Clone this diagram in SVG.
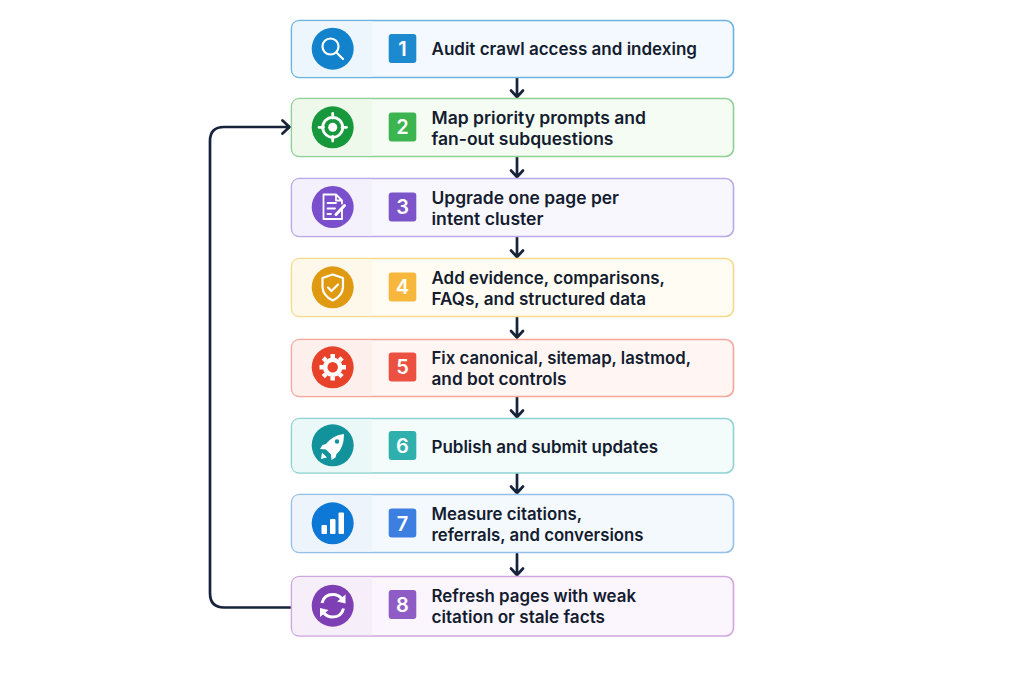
<svg xmlns="http://www.w3.org/2000/svg" width="1024" height="683" viewBox="0 0 1024 683">
<style>
.box{stroke-width:1.6}
.t{font-family:Inter,"Liberation Sans",sans-serif;font-size:17px;font-weight:600;fill:#141c30}
.n{font-family:Inter,"Liberation Sans",sans-serif;font-size:20px;font-weight:600;fill:#fff;text-anchor:middle}
.i{fill:none;stroke:#fff;stroke-width:2.2;stroke-linecap:round;stroke-linejoin:round}
.f{fill:#fff}
.c{fill:none;stroke:#17233b;stroke-width:2.7;stroke-linecap:round;stroke-linejoin:round}
</style>
<rect width="1024" height="683" fill="#fff"/>
<g id="connectors">
<path class="c" d="M517 78V97M511 90.500L517 97L523 90.500"/>
<path class="c" d="M517 157V177M511 170.500L517 177L523 170.500"/>
<path class="c" d="M517 237V257M511 250.500L517 257L523 250.500"/>
<path class="c" d="M517 317V337.500M511 331L517 337.500L523 331"/>
<path class="c" d="M517 397V417M511 410.500L517 417L523 410.500"/>
<path class="c" d="M517 474V493M511 486.500L517 493L523 486.500"/>
<path class="c" d="M517 554V575M511 568.500L517 575L523 568.500"/>
<path class="c" d="M290 607.500H224Q210 607.500 210 593V141Q210 127 224 127H289M282.500 120.500L289.500 127L282.500 133.500"/>
</g>
<g id="step1">
<rect class="box" x="291.500" y="20.500" width="442" height="57" rx="8" fill="#f3f9fe" stroke="#6cb4e0"/>
<path d="M299 21.300H372V76.700H299Q292.300 76.700 292.300 70V28Q292.300 21.300 299 21.300Z" fill="#edf6fc"/>
<circle cx="332.700" cy="48.700" r="21" fill="#1382cc"/>
<circle class="i" cx="330.500" cy="46.500" r="8"/><path class="i" d="M336.500 52.500L343 59"/>
<rect x="388.700" y="34" width="27.600" height="29" rx="3" fill="#1d8ad0"/>
<text class="n" x="402.500" y="55.500">1</text>
<text class="t" x="431.500" y="55" textLength="265.500" lengthAdjust="spacingAndGlyphs">Audit crawl access and indexing</text>
</g>
<g id="step2">
<rect class="box" x="291.500" y="98.500" width="442" height="58" rx="8" fill="#f5fcf3" stroke="#8fd096"/>
<path d="M299 99.300H372V155.700H299Q292.300 155.700 292.300 149V106Q292.300 99.300 299 99.300Z" fill="#eef9ec"/>
<circle cx="332.700" cy="127.300" r="21" fill="#17983c"/>
<circle class="i" style="stroke-width:2.800" cx="332.700" cy="127.300" r="10"/><circle class="f" cx="332.700" cy="127.300" r="4.500"/>
<path class="i" style="stroke-width:2.800" d="M332.700 113.500V118M332.700 136.500V141M319 127.300H323.500M342 127.300H346.500"/>
<rect x="388.700" y="112.500" width="27.600" height="29" rx="3" fill="#3cb44f"/>
<text class="n" x="402.500" y="134">2</text>
<text class="t" x="431.500" y="124" textLength="214.500" lengthAdjust="spacingAndGlyphs">Map priority prompts and</text>
<text class="t" x="431.500" y="145" textLength="182" lengthAdjust="spacingAndGlyphs">fan-out subquestions</text>
</g>
<g id="step3">
<rect class="box" x="291.500" y="178.500" width="442" height="58" rx="8" fill="#f9f7fe" stroke="#bba8e6"/>
<path d="M299 179.300H372V235.700H299Q292.300 235.700 292.300 229V186Q292.300 179.300 299 179.300Z" fill="#f4f0fc"/>
<circle cx="332.700" cy="207" r="21" fill="#7a4fcb"/>
<path class="i" style="stroke-width:1.800" d="M342 209V219H323.500V194.500H336L342 200.500V203.500M336 194.500V200.500H342M327.500 203H336M327.500 208.500H335M327.500 214H331"/>
<path class="i" style="stroke-width:3" d="M336 214.500L344.500 205.500"/>
<rect x="388.700" y="192.500" width="27.600" height="29" rx="3" fill="#7b55c9"/>
<text class="n" x="402.500" y="214">3</text>
<text class="t" x="431.500" y="204" textLength="187.500" lengthAdjust="spacingAndGlyphs">Upgrade one page per</text>
<text class="t" x="431.500" y="225" textLength="112" lengthAdjust="spacingAndGlyphs">intent cluster</text>
</g>
<g id="step4">
<rect class="box" x="291.500" y="258.500" width="442" height="58" rx="8" fill="#fffcf3" stroke="#f5d98d"/>
<path d="M299 259.300H372V315.700H299Q292.300 315.700 292.300 309V266Q292.300 259.300 299 259.300Z" fill="#fef8ea"/>
<circle cx="332.700" cy="287.300" r="21" fill="#e09a12"/>
<path class="i" d="M332.700 274.500L322.500 278V287Q323 296 332.700 300.500Q342.500 296 343 287V278Z"/>
<path class="i" d="M328 287.500L331.500 291L338 284.500"/>
<rect x="388.700" y="272.500" width="27.600" height="29" rx="3" fill="#f6b73c"/>
<text class="n" x="402.500" y="294">4</text>
<text class="t" x="431.500" y="284" textLength="233.500" lengthAdjust="spacingAndGlyphs">Add evidence, comparisons,</text>
<text class="t" x="431.500" y="305" textLength="214.500" lengthAdjust="spacingAndGlyphs">FAQs, and structured data</text>
</g>
<g id="step5">
<rect class="box" x="291.500" y="339.500" width="442" height="57" rx="8" fill="#fff6f4" stroke="#f3a79d"/>
<path d="M299 340.300H372V395.700H299Q292.300 395.700 292.300 389V347Q292.300 340.300 299 340.300Z" fill="#fdefec"/>
<circle cx="332.700" cy="367.300" r="21" fill="#e8432a"/>
<circle class="i" style="stroke-width:4.500" cx="332.700" cy="367.300" r="7.500"/>
<path class="i" style="stroke-width:4.500;stroke-linecap:butt" d="M332.700 354V358M332.700 376.500V380.500M319.500 367.300H323.500M342 367.300H346M323.300 357.900L326 360.600M339.400 374L342.100 376.700M323.300 376.700L326 374M339.400 360.600L342.100 357.900"/>
<rect x="388.700" y="352.500" width="27.600" height="29" rx="3" fill="#ec5040"/>
<text class="n" x="402.500" y="374">5</text>
<text class="t" x="431.500" y="364" textLength="259.500" lengthAdjust="spacingAndGlyphs">Fix canonical, sitemap, lastmod,</text>
<text class="t" x="431.500" y="385" textLength="135" lengthAdjust="spacingAndGlyphs">and bot controls</text>
</g>
<g id="step6">
<rect class="box" x="291.500" y="418.500" width="442" height="54.500" rx="8" fill="#f3fbfb" stroke="#8ed3d3"/>
<path d="M299 419.300H372V472.200H299Q292.300 472.200 292.300 466V426Q292.300 419.300 299 419.300Z" fill="#ebf8f8"/>
<circle cx="332.700" cy="445.300" r="21" fill="#12929a"/>
<path class="f" d="M344 434Q333 435 326 444L322.500 445L320 449L326 449.500L331 454.500L331.500 460L335.500 457.500L336.500 454Q344 448 344 434Z"/>
<path class="f" d="M322 452.500L327 457.500L321 459Z"/>
<circle cx="337" cy="441.500" r="2.200" fill="#12929a"/>
<rect x="388.700" y="431" width="27.600" height="29" rx="3" fill="#2fb0ad"/>
<text class="n" x="402.500" y="453">6</text>
<text class="t" x="431.500" y="452.500" textLength="226.500" lengthAdjust="spacingAndGlyphs">Publish and submit updates</text>
</g>
<g id="step7">
<rect class="box" x="291.500" y="494.500" width="442" height="58" rx="8" fill="#f4f9fe" stroke="#96bfea"/>
<path d="M299 495.300H372V551.700H299Q292.300 551.700 292.300 545V502Q292.300 495.300 299 495.300Z" fill="#edf4fc"/>
<circle cx="332.700" cy="523.300" r="21" fill="#0e78d6"/>
<rect class="f" x="321.500" y="525" width="5.500" height="9" rx="1"/>
<rect class="f" x="330" y="519" width="5.500" height="15" rx="1"/>
<rect class="f" x="338.500" y="512.500" width="5.500" height="21.500" rx="1"/>
<rect x="388.700" y="508.500" width="27.600" height="29" rx="3" fill="#3c7fe0"/>
<text class="n" x="402.500" y="530.500">7</text>
<text class="t" x="431.500" y="520" textLength="150.500" lengthAdjust="spacingAndGlyphs">Measure citations,</text>
<text class="t" x="431.500" y="541" textLength="212" lengthAdjust="spacingAndGlyphs">referrals, and conversions</text>
</g>
<g id="step8">
<rect class="box" x="291.500" y="576.500" width="442" height="59.500" rx="8" fill="#fbf6fd" stroke="#cfa6e0"/>
<path d="M299 577.300H372V635.200H299Q292.300 635.200 292.300 629V584Q292.300 577.300 299 577.300Z" fill="#f6effa"/>
<circle cx="332.700" cy="605.700" r="21" fill="#7e3eb4"/>
<path class="i" style="stroke-width:3;stroke-linecap:butt" d="M322 603Q324 594.500 333 594.500Q338.500 594.500 342 599M343.500 608.500Q341.500 617 332.500 617Q327 617 323.500 612.500"/>
<path class="f" d="M345.500 594.500L345.500 603.500L337 601.500ZM320 617L320 608L328.500 610Z"/>
<rect x="388.700" y="590" width="27.600" height="29" rx="3" fill="#8f5cc6"/>
<text class="n" x="402.500" y="612">8</text>
<text class="t" x="431.500" y="602" textLength="204.500" lengthAdjust="spacingAndGlyphs">Refresh pages with weak</text>
<text class="t" x="431.500" y="623" textLength="173.500" lengthAdjust="spacingAndGlyphs">citation or stale facts</text>
</g>
</svg>
